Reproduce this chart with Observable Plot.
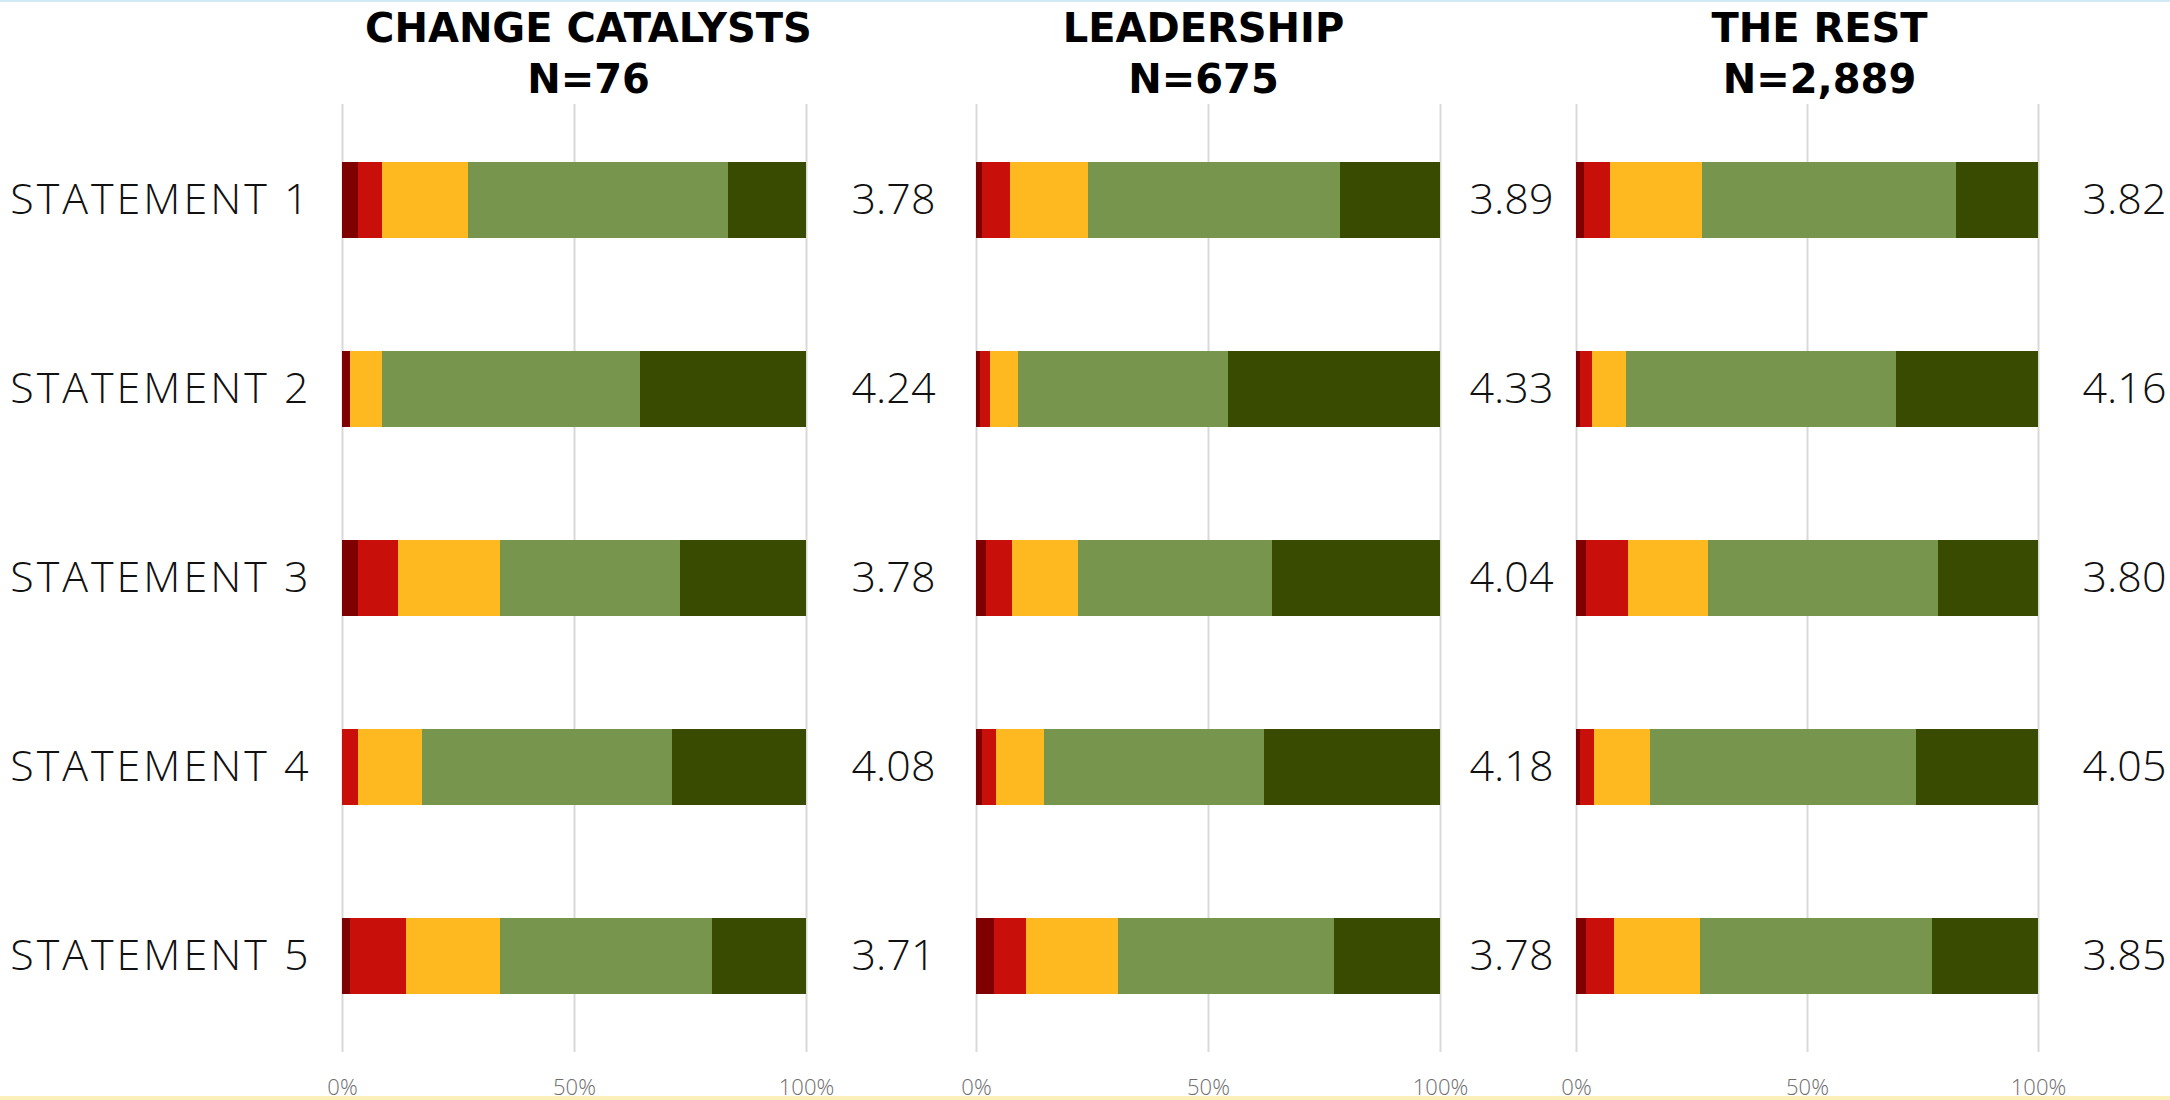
<!DOCTYPE html>
<html>
<head>
<meta charset="utf-8">
<script src="https://cdn.jsdelivr.net/npm/d3@7"></script>
<script src="https://cdn.jsdelivr.net/npm/@observablehq/plot@0.6"></script>
<style>
  html, body { margin: 0; padding: 0; background: #ffffff; }
  #wrap { position: relative; width: 2170px; height: 1100px; overflow: hidden; background: #fff; }
  #wrap svg { display: block; position: absolute; top: 0; }
  .topline { position: absolute; left: 0; top: 0; width: 2170px; height: 2px; background: #cfe9f6; }
  .bottomline { position: absolute; left: 0; bottom: 0; width: 2170px; height: 4px; background: #fbf0ba; }
</style>
</head>
<body>
<div id="wrap"></div>
<script>
// ---------- data ----------
const statements = ["STATEMENT 1", "STATEMENT 2", "STATEMENT 3", "STATEMENT 4", "STATEMENT 5"];
const categories = ["Strongly disagree", "Disagree", "Neutral", "Agree", "Strongly agree"];
const groupTitles = ["CHANGE CATALYSTS", "LEADERSHIP", "THE REST"];
const groupN = ["N=76", "N=675", "N=2,889"];
const xTicks = [0, 50, 100];

// percent shares per statement, in category order
const changeCatalysts = [
  [3.4, 5.2, 18.5, 56.0, 16.9],
  [1.7, 0.0, 6.9, 55.6, 35.8],
  [3.4, 8.6, 22.0, 38.8, 27.2],
  [0.0, 3.4, 13.8, 53.9, 28.9],
  [1.7, 12.1, 20.3, 45.7, 20.2]
];
const leadership = [
  [1.3, 6.0, 16.8, 54.3, 21.6],
  [0.9, 2.2, 6.0, 45.3, 45.6],
  [2.2, 5.6, 14.2, 41.8, 36.2],
  [1.3, 3.0, 10.3, 47.4, 38.0],
  [3.9, 6.9, 19.8, 46.6, 22.8]
];
const theRest = [
  [1.7, 5.6, 19.9, 55.0, 17.8],
  [0.9, 2.6, 7.4, 58.4, 30.7],
  [2.2, 9.1, 17.3, 49.8, 21.6],
  [0.9, 3.0, 12.1, 57.6, 26.4],
  [2.2, 6.1, 18.6, 50.2, 22.9]
];
// mean scores shown at the right of each panel
const changeCatalystsMean = ["3.78", "4.24", "3.78", "4.08", "3.71"];
const leadershipMean = ["3.89", "4.33", "4.04", "4.18", "3.78"];
const theRestMean = ["3.82", "4.16", "3.80", "4.05", "3.85"];

// ---------- style / layout ----------
const colors = ["#7f0000", "#c80f09", "#feb920", "#78954e", "#394b00"];
const layout = [
  { left: 0,    width: 1000, marginLeft: 342, marginRight: 194, titleDx: 14, valueDx: 87, yLabels: true },
  { left: 900,  width: 700,  marginLeft: 76,  marginRight: 160, titleDx: -5, valueDx: 71, yLabels: false },
  { left: 1500, width: 670,  marginLeft: 76,  marginRight: 132, titleDx: 12, valueDx: 86, yLabels: false }
];
const groupValues = [changeCatalysts, leadership, theRest];
const groupMeans = [changeCatalystsMean, leadershipMean, theRestMean];

const lightFont = "'Open Sans', 'DejaVu Sans', sans-serif";
const boldFont = "'DejaVu Sans', sans-serif";

const wrap = document.getElementById("wrap");

groupTitles.forEach((title, gi) => {
  const L = layout[gi];
  const rows = [];
  statements.forEach((s, si) => {
    categories.forEach((c, ci) => {
      rows.push({ statement: s, category: c, value: groupValues[gi][si][ci] });
    });
  });
  const means = statements.map((s, si) => ({ statement: s, mean: groupMeans[gi][si] }));

  const marks = [
    Plot.ruleX(xTicks, { x: d => d, stroke: "#d9d9d9", strokeWidth: 2 }),
    Plot.barX(rows, Plot.stackX({
      x: "value", y: "statement", fill: "category", shapeRendering: "crispEdges"
    })),
    Plot.text(means, {
      x: () => 100, y: "statement", text: "mean", dx: L.valueDx,
      textAnchor: "middle", fontSize: 43, fontWeight: 300, fontFamily: lightFont, fill: "#111"
    }),
    Plot.text(xTicks, {
      x: d => d, text: d => d + "%", frameAnchor: "bottom", dy: 35, lineAnchor: "middle",
      fontSize: 22, fontWeight: 300, fontFamily: lightFont, fill: "#6e6e6e"
    }),
    Plot.text([title + "\n" + groupN[gi]], {
      text: d => d, frameAnchor: "top", dx: L.titleDx, dy: -53.5, lineAnchor: "middle",
      lineHeight: 1.275, fontSize: 40, fontWeight: "bold", fontFamily: boldFont, fill: "#000"
    })
  ];
  if (L.yLabels) {
    marks.push(Plot.text(statements, {
      y: d => d, text: d => d, frameAnchor: "left", dx: -31, textAnchor: "end",
      fontSize: 43, fontWeight: 300, fontFamily: lightFont, fill: "#111"
    }));
  }

  const chart = Plot.plot({
    width: L.width,
    height: 1100,
    marginLeft: L.marginLeft,
    marginRight: L.marginRight,
    marginTop: 104,
    marginBottom: 48,
    x: { domain: [0, 100], axis: null },
    y: { domain: statements, axis: null, paddingInner: 0.6, paddingOuter: 0.3 },
    color: { domain: categories, range: colors },
    style: { background: "transparent", overflow: "visible" },
    marks
  });
  chart.style.left = L.left + "px";
  // wider tracking for the light statement labels, like the original typeface
  d3.select(chart).selectAll("text")
    .filter(function () { return statements.includes(this.textContent); })
    .style("letter-spacing", "3px");
  wrap.appendChild(chart);
});

const t = document.createElement("div"); t.className = "topline"; wrap.appendChild(t);
const b = document.createElement("div"); b.className = "bottomline"; wrap.appendChild(b);
</script>
</body>
</html>
